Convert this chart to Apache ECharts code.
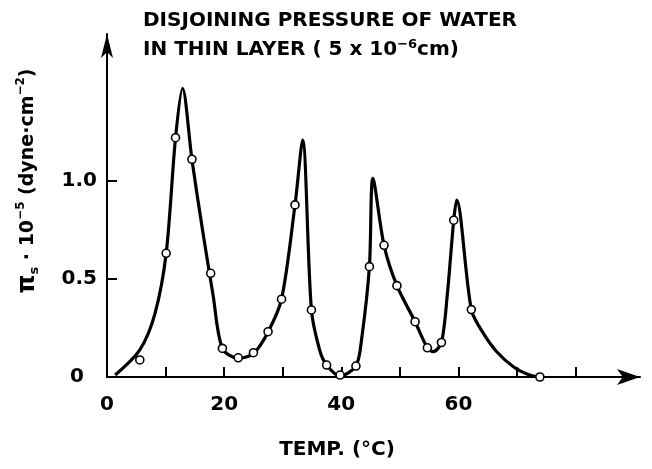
<!DOCTYPE html>
<html><head><meta charset="utf-8">
<script src="https://cdn.jsdelivr.net/npm/echarts@6/dist/echarts.min.js"></script>
<style>html,body{margin:0;padding:0;background:#fff}#c{width:652px;height:469px}</style>
</head><body><div id="c"></div>
<script>
// Measured points (open circles)
const pointTemp     = [5.6, 10.1, 11.7, 14.5, 17.7, 19.7, 22.4, 25.0, 27.5, 29.8, 32.1, 34.9, 37.5, 39.8, 42.5, 44.8, 47.3, 49.5, 52.6, 54.7, 57.1, 59.2, 62.2, 73.9];
const pointPressure = [0.087, 0.631, 1.221, 1.111, 0.529, 0.146, 0.098, 0.124, 0.231, 0.397, 0.878, 0.342, 0.061, 0.01, 0.056, 0.563, 0.672, 0.466, 0.282, 0.149, 0.176, 0.80, 0.344, 0.0];
// Hand-drawn curve through the data
const curveTemp     = [1.4, 5.6, 8.2, 10.1, 11.7, 12.9, 14.5, 16.4, 18.1, 19.7, 22.4, 25.0, 27.5, 29.8, 32.1, 33.4, 34.9, 36.3, 37.5, 39.8, 42.5, 43.5, 44.8, 45.4, 47.3, 49.5, 52.6, 54.7, 55.7, 57.1, 58.1, 59.2, 59.7, 62.2, 64.0, 66.5, 69.5, 72.0, 73.9];
const curvePressure = [0.01, 0.138, 0.325, 0.63, 1.22, 1.473, 1.11, 0.733, 0.42, 0.146, 0.095, 0.12, 0.23, 0.397, 0.878, 1.209, 0.342, 0.138, 0.061, 0.005, 0.056, 0.2, 0.563, 1.014, 0.672, 0.466, 0.282, 0.149, 0.129, 0.176, 0.42, 0.80, 0.903, 0.344, 0.235, 0.13, 0.05, 0.012, 0.0];
// Axis ticks and labels
const xTickValues  = [10, 20, 30, 40, 50, 60, 70, 80];
const xLabelValues = [0, 20, 40, 60];
const yTickValues  = [0.5, 1.0];
const yLabelValues = [0, 0.5, 1.0];
const titleLine1 = 'DISJOINING PRESSURE OF WATER';
const titleLine2 = 'IN THIN LAYER ( 5 x 10{sup|−6}cm)';
const xName = 'TEMP. (°C)';
const yName = '{pi|π}{sub|s} · 10{sup|−5} (dyne·cm{sup|−2})';

const FONT = '"DejaVu Sans", sans-serif';
const pts = pointTemp.map((t, i) => [t, pointPressure[i]]);
const crv = curveTemp.map((t, i) => [t, curvePressure[i]]);

const chart = echarts.init(document.getElementById('c'));
chart.setOption({
  animation: false,
  backgroundColor: '#fff',
  title: [
    { text: titleLine1, left: 143, top: 9, padding: 0,
      textStyle: { fontFamily: FONT, fontWeight: 'bold', fontSize: 20, lineHeight: 24, color: '#000' } },
    { text: titleLine2, left: 143, top: 38, padding: 0,
      textStyle: { fontFamily: FONT, fontWeight: 'bold', fontSize: 20, lineHeight: 24, color: '#000',
        rich: { sup: { fontFamily: FONT, fontWeight: 'bold', fontSize: 13, lineHeight: 8, verticalAlign: 'top', color: '#000' } } } }
  ],
  grid: { left: 107, right: 12, top: 34, bottom: 92, containLabel: false },
  xAxis: {
    type: 'value', min: 0, max: 91,
    name: xName, nameLocation: 'middle', nameGap: 61,
    nameTextStyle: { fontFamily: FONT, fontWeight: 'bold', fontSize: 20, lineHeight: 24, color: '#000', padding: [0, 73, 0, 0] },
    axisLine: { show: true, symbol: ['none', 'arrow'], symbolSize: [12, 23], lineStyle: { color: '#000', width: 2 } },
    axisTick: { show: true, inside: true, length: 10, customValues: xTickValues, lineStyle: { color: '#000', width: 2 } },
    axisLabel: { customValues: xLabelValues, margin: 18, fontFamily: FONT, fontWeight: 'bold', fontSize: 20, color: '#000' },
    splitLine: { show: false }
  },
  yAxis: {
    type: 'value', min: 0, max: 1.75,
    name: yName, nameLocation: 'middle', nameRotate: 90, nameGap: 66,
    nameTextStyle: { fontFamily: FONT, fontWeight: 'bold', fontSize: 19, lineHeight: 26, color: '#000', padding: [0, 0, 0, 49],
      rich: {
        pi: { fontFamily: FONT, fontWeight: 'bold', fontSize: 24, lineHeight: 26, color: '#000' },
        sub: { fontFamily: FONT, fontWeight: 'bold', fontSize: 13, lineHeight: 14, verticalAlign: 'bottom', color: '#000' },
        sup: { fontFamily: FONT, fontWeight: 'bold', fontSize: 12, lineHeight: 12, verticalAlign: 'top', color: '#000' }
      } },
    axisLine: { show: true, symbol: ['none', 'arrow'], symbolSize: [9, 24], lineStyle: { color: '#000', width: 2 } },
    axisTick: { show: true, inside: true, length: 10, customValues: yTickValues, lineStyle: { color: '#000', width: 2 } },
    axisLabel: { customValues: yLabelValues, margin: 10, fontFamily: FONT, fontWeight: 'bold', fontSize: 20, color: '#000',
      formatter: v => v === 0 ? '{z|0}' : v.toFixed(1),
      rich: { z: { fontFamily: FONT, fontWeight: 'bold', fontSize: 20, color: '#000', padding: [0, 13, 0, 0] } } },
    splitLine: { show: false }
  },
  series: [
    { type: 'line', data: crv, smooth: 0.3, showSymbol: false, symbol: 'none',
      lineStyle: { color: '#000', width: 3.2 }, z: 2 },
    { type: 'scatter', data: pts, symbol: 'circle', symbolSize: 8,
      itemStyle: { color: '#fff', borderColor: '#000', borderWidth: 1.6, opacity: 1 }, z: 3 }
  ]
});
</script>
</body></html>
